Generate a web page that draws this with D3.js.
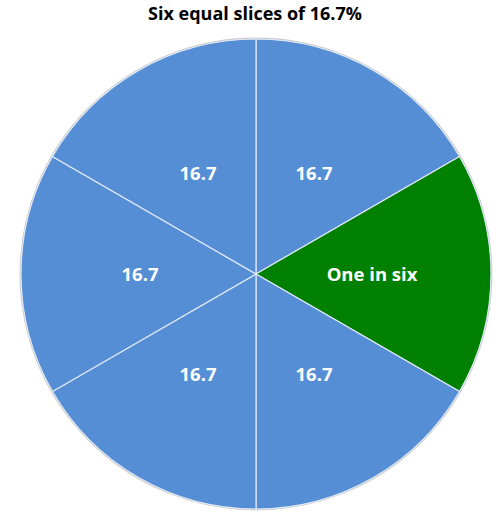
<!DOCTYPE html>
<html><head><meta charset="utf-8">
<script src="https://cdn.jsdelivr.net/npm/d3@7"></script>
<style>body{margin:0;background:#fff}</style>
</head><body>
<svg id="c" width="500" height="518"></svg>
<script>
const title = "Six equal slices of 16.7%";
const categories = ["A","B","C","D","E","F"];
const values = [16.7,16.7,16.7,16.7,16.7,16.7];
const labels = ["16.7","One in six","16.7","16.7","16.7","16.7"];
const colors = ["#558ed5","#008000","#558ed5","#558ed5","#558ed5","#558ed5"];

const svg = d3.select("#c");
const cx = 256, cy = 274, R = 235;
const font = "'Open Sans', sans-serif";

svg.append("text").attr("x", 255).attr("y", 20).attr("text-anchor","middle")
  .attr("font-family", font).attr("font-weight","bold").attr("font-size", 18)
  .attr("fill","#000").text(title);

const pie = d3.pie().sort(null).value(d => d)(values);
const arc = d3.arc().innerRadius(0).outerRadius(R);
const labelArc = d3.arc().innerRadius(116).outerRadius(116);
const g = svg.append("g").attr("transform", `translate(${cx},${cy})`);

g.append("circle").attr("r", R+0.8).attr("fill","none").attr("stroke","#c8c8c8").attr("stroke-width",1.2);

g.selectAll("path").data(pie).join("path")
  .attr("d", arc).attr("fill", (d,i) => colors[i])
  .attr("stroke", "#dfe8f7").attr("stroke-width", 1.2);

g.selectAll("text.l").data(pie).join("text").attr("class","l")
  .attr("transform", d => `translate(${labelArc.centroid(d)})`)
  .attr("text-anchor","middle").attr("dy","0.36em")
  .attr("font-family", font).attr("font-weight","bold").attr("font-size", 18.5)
  .attr("fill","#fff").text((d,i) => labels[i]);
</script>
</body></html>
